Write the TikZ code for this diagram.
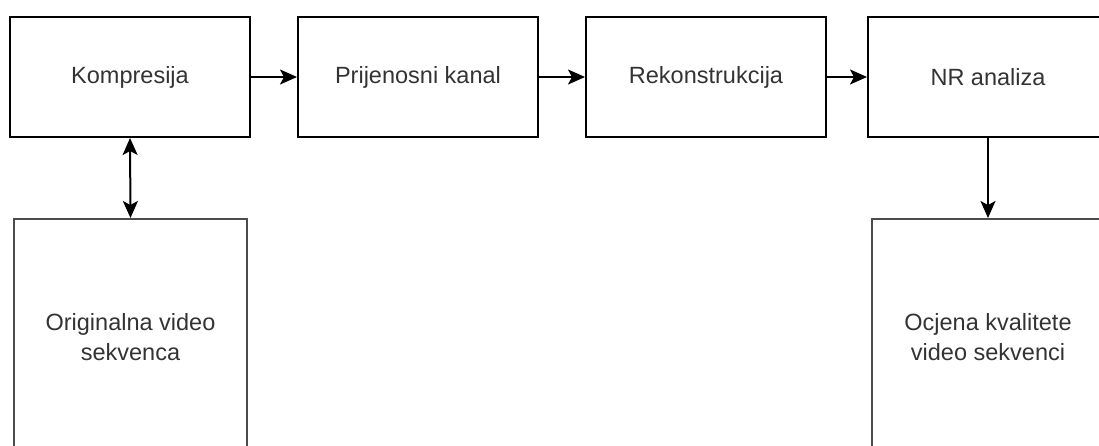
\documentclass[tikz,border=0pt]{standalone}
\usepackage{fontspec}
\setmainfont{Liberation Sans}
\usepackage{tikz}
\usetikzlibrary{positioning,arrows.meta}

\begin{document}
\begin{tikzpicture}[x=1pt,y=-1pt,
		blok/.style={draw=black, line width=2pt, minimum width=240pt, minimum height=120pt, inner sep=0pt,
			text=black!80, align=center, font=\fontsize{23.5}{30}\selectfont},
		visok/.style={blok, draw=black!70, minimum width=233pt, minimum height=236pt},
		veza/.style={line width=2pt, -{Stealth[length=17pt,width=15pt,inset=4pt]}},
		dvoveza/.style={line width=2pt, {Stealth[length=17pt,width=15pt,inset=4pt]}-{Stealth[length=17pt,width=15pt,inset=4pt]}}]
			\clip (0,0) rectangle (1099,445);

			\node[blok] (komp) at (130,77) {Kompresija};
			\node[blok, right=46pt of komp] (kanal) {Prijenosni kanal};
			\node[blok, right=46pt of kanal] (rekon) {Rekonstrukcija};
			\node[blok, right=40pt of rekon] (nr) {NR analiza};

			\node[visok] (orig) at (130.5,337) {Originalna video\\sekvenca};
			\node[visok, minimum width=232pt] (ocjena) at (988,337) {Ocjena kvalitete\\video sekvenci};

			\draw[veza] (komp) -- (kanal);
			\draw[veza] (kanal) -- (rekon);
			\draw[veza] (rekon) -- (nr);
			\draw[dvoveza] (komp.south) -- (orig.north);
			\draw[veza] (nr.south) -- (ocjena.north);
\end{tikzpicture}
\end{document}
